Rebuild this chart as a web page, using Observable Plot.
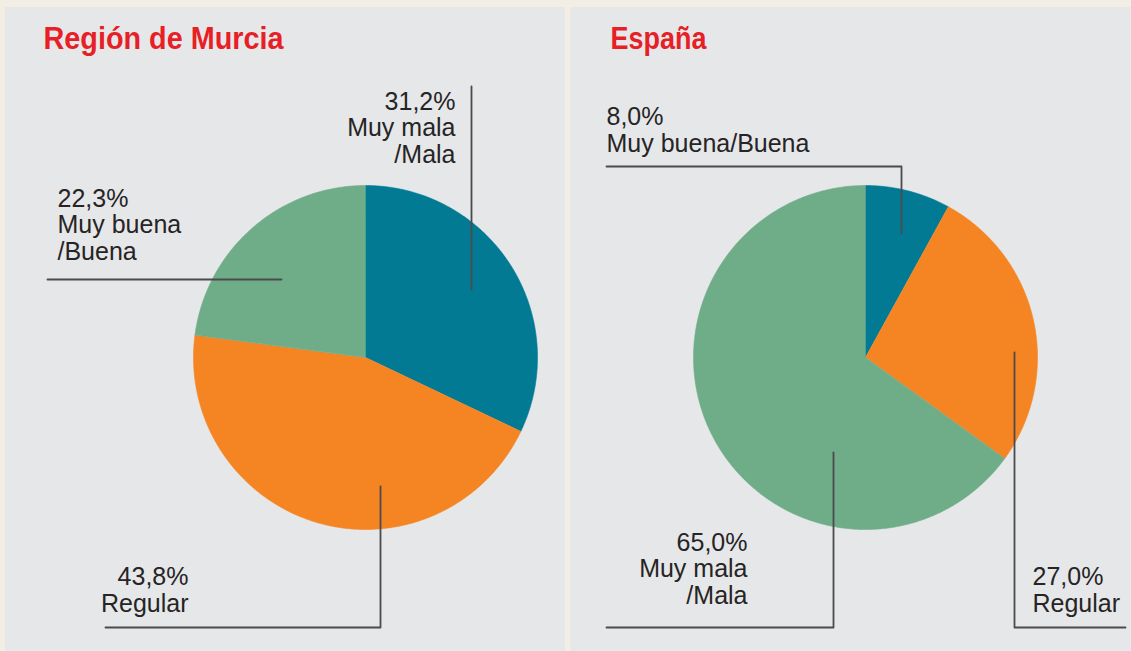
<!DOCTYPE html>
<html>
<head>
<meta charset="utf-8">
<script src="https://cdn.jsdelivr.net/npm/d3@7"></script>
<script src="https://cdn.jsdelivr.net/npm/@observablehq/plot@0.6"></script>
<style>
  html, body { margin: 0; padding: 0; background: #f2eee3; width: 1131px; height: 651px; overflow: hidden; }
  .panel { position: absolute; top: 7px; }
  .panel svg { display: block; background: #e6e7e9; }
</style>
</head>
<body>
<div id="left" class="panel" style="left:5px"></div>
<div id="right" class="panel" style="left:570px"></div>
<script>
// ---- data ----
const titles = ["Región de Murcia", "España"];
const categoriesMurcia = ["Muy mala/Mala", "Regular", "Muy buena/Buena"];
const valuesMurcia = [31.2, 43.8, 22.3];
const labelNamesMurcia = ["Muy mala\n/Mala", "Regular", "Muy buena\n/Buena"];
const categoriesEspana = ["Muy buena/Buena", "Regular", "Muy mala/Mala"];
const valuesEspana = [8.0, 27.0, 65.0];
const labelNamesEspana = ["Muy buena/Buena", "Regular", "Muy mala\n/Mala"];
const sliceColors = ["#027a94", "#f58422", "#6ead87"];

// ---- layout (pixel offsets from the pie centre) ----
const R = 172;
const layoutMurcia = {
  width: 560, cx: 360,
  labels: [
    {x: 90, y: -195, anchor: "end"},
    {x: -177, y: 254, anchor: "end"},
    {x: -308, y: -98, anchor: "start"}
  ],
  leaders: [
    [[106, -271], [106, -68]],
    [[15, 129], [15, 270], [-260, 270]],
    [[-318, -78], [-84, -78]]
  ],
  title: {x: -322, y: -309, w: 240}
};
const layoutEspana = {
  width: 561, cx: 295,
  labels: [
    {x: -259, y: -206, anchor: "start"},
    {x: 167, y: 254, anchor: "start"},
    {x: -118, y: 246, anchor: "end"}
  ],
  leaders: [
    [[-259, -191], [36, -191], [36, -124]],
    [[149, -5], [149, 270], [260, 270]],
    [[-32, 95], [-32, 270], [-259, 270]]
  ],
  title: {x: -255, y: -309, w: 96}
};

const fmt = v => v.toFixed(1).replace(".", ",") + "%";

function panel(title, categories, values, names, L) {
  const arcs = d3.pie().sort(null).value(d => d)(values);
  const sliceMarks = arcs.map((a, i) => {
    const pts = [{x: 0, y: 0}];
    const n = Math.max(8, Math.ceil((a.endAngle - a.startAngle) / 0.01));
    for (let k = 0; k <= n; k++) {
      const t = a.startAngle + (a.endAngle - a.startAngle) * k / n;
      pts.push({x: R * Math.sin(t), y: -R * Math.cos(t)});
    }
    return Plot.line(pts, {x: "x", y: "y", fill: sliceColors[i], stroke: sliceColors[i], strokeWidth: 0.6, curve: "linear"});
  });
  const leaderPts = L.leaders.flatMap((seg, i) => seg.map(([x, y]) => ({x, y, g: i})));
  const labelData = values.map((v, i) => ({
    text: fmt(v) + "\n" + names[i],
    x: L.labels[i].x, y: L.labels[i].y, anchor: L.labels[i].anchor, cat: categories[i]
  }));
  const svg = Plot.plot({
    width: L.width, height: 644,
    margin: 0,
    x: {domain: [-L.cx, L.width - L.cx], range: [0, L.width], axis: null},
    y: {domain: [-350, 294], range: [0, 644], axis: null},
    style: {background: "#e6e7e9", overflow: "visible"},
    marks: [
      ...sliceMarks,
      Plot.line(leaderPts, {x: "x", y: "y", z: "g", stroke: "#4b4a4c", strokeWidth: 1.8, curve: "linear"}),
      ...["start", "end"].map(anc => Plot.text(labelData.filter(d => d.anchor === anc), {
        x: "x", y: "y", text: "text", textAnchor: anc, lineAnchor: "bottom",
        lineHeight: 1.06, fontSize: 25, fill: "#262425",
        fontFamily: "'Liberation Sans', Arial, sans-serif"
      })),
      Plot.text([title], {
        x: () => L.title.x, y: () => L.title.y, text: d => d,
        textAnchor: "start", lineAnchor: "bottom", fontSize: 31, fontWeight: "bold",
        fill: "#e71f27", className: "ttl",
        fontFamily: "'Liberation Sans', Arial, sans-serif"
      })
    ]
  });
  d3.select(svg).selectAll(".ttl text")
    .attr("textLength", L.title.w)
    .attr("lengthAdjust", "spacingAndGlyphs");
  return svg;
}

document.getElementById("left").appendChild(panel(titles[0], categoriesMurcia, valuesMurcia, labelNamesMurcia, layoutMurcia));
document.getElementById("right").appendChild(panel(titles[1], categoriesEspana, valuesEspana, labelNamesEspana, layoutEspana));
</script>
</body>
</html>
